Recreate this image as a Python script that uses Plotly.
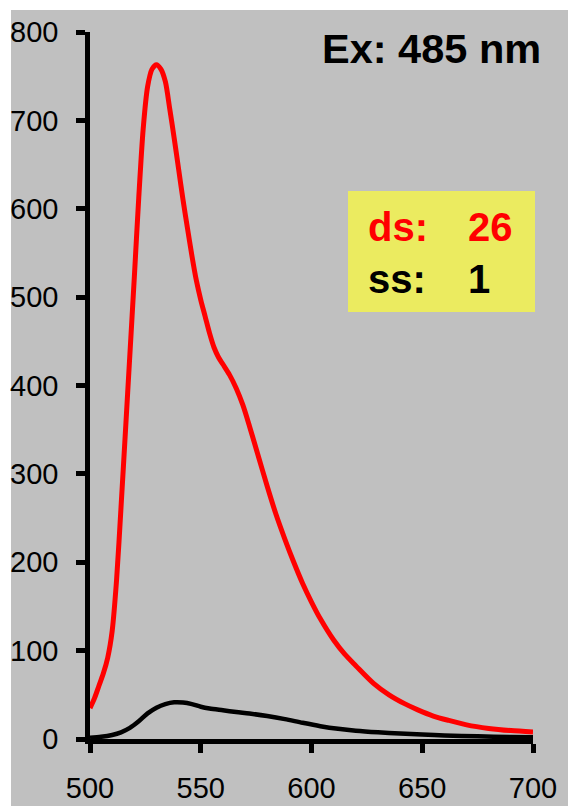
import plotly.graph_objects as go

# Emission spectra (Ex: 485 nm)
ds_wavelength = [500, 502, 504, 506, 508, 510, 512, 514, 516, 518, 520, 522, 524, 526,
                 528, 530, 532, 534, 536, 538, 540, 542, 544, 546, 548, 550, 552, 554,
                 556, 558, 560, 563, 566, 569, 572, 576, 580, 584, 588, 592, 596, 600,
                 604, 610, 615, 620, 628, 635, 642, 648, 655, 662, 670, 680, 690, 700]
ds_intensity = [35, 46, 60, 74, 92, 122, 180, 262, 348, 435, 522, 612, 690, 738,
                758, 763, 758, 744, 713, 680, 645, 610, 578, 547, 519, 497, 478, 459,
                443, 432, 424, 412, 397, 378, 354, 320, 286, 254, 226, 200, 176, 155,
                136, 112, 96, 83, 63, 50, 40, 33, 26, 21, 16, 12, 9.5, 8]

ss_wavelength = [500, 505, 510, 514, 518, 522, 526, 530, 534, 538, 542, 546, 550, 554,
                 560, 566, 572, 580, 588, 596, 604, 612, 620, 630, 640, 650, 660, 675,
                 690, 700]
ss_intensity = [1.5, 2.5, 4.5, 7.5, 12.5, 20, 29, 35.5, 39.5, 41.5, 41.3, 39.5, 36.5, 34.5,
                32.5, 30.5, 28.8, 26, 22.5, 18.3, 14.5, 11.5, 9.3, 7.5, 6.2, 5, 4, 3,
                2.2, 2]

x_ticks = [500, 550, 600, 650, 700]
y_ticks = [0, 100, 200, 300, 400, 500, 600, 700, 800]

title_text = "Ex: 485 nm"
legend_rows = [("ds:", "26", "#ff0000"), ("ss:", "1", "#000000")]

fig = go.Figure()
fig.add_trace(go.Scatter(x=ds_wavelength, y=ds_intensity, mode="lines",
                         line=dict(color="#ff0000", width=5, shape="spline", smoothing=0.8),
                         showlegend=False, hoverinfo="skip"))
fig.add_trace(go.Scatter(x=ss_wavelength, y=ss_intensity, mode="lines",
                         line=dict(color="#000000", width=4.5, shape="spline", smoothing=0.8),
                         showlegend=False, hoverinfo="skip"))

font_family = "Liberation Sans, Arial, sans-serif"

axis_common = dict(showline=True, linecolor="black", linewidth=4.5, ticks="outside",
                   ticklen=9, tickwidth=4.5, tickcolor="black", showgrid=False,
                   zeroline=False, automargin=False,
                   tickfont=dict(family=font_family, size=29, color="black"))

fig.update_xaxes(range=[500, 700], tickvals=x_ticks, ticktext=[str(v) for v in x_ticks],
                 ticklabelstandoff=10, **axis_common)
fig.update_yaxes(range=[0, 800], tickvals=y_ticks, ticktext=[str(v) for v in y_ticks],
                 ticklabelstandoff=12, **axis_common)

shapes = [
    # white strips on top and left edges
    dict(type="rect", xref="paper", yref="paper", x0=-0.3, x1=1.2, y0=1.0311, y1=1.1,
         fillcolor="white", line=dict(width=0), layer="below"),
    dict(type="rect", xref="paper", yref="paper", x0=-0.3, x1=-0.1783, y0=-0.2, y1=1.1,
         fillcolor="white", line=dict(width=0), layer="below"),
    # yellow legend box
    dict(type="rect", xref="paper", yref="paper", x0=0.5824, x1=1.0045, y0=0.604, y1=0.775,
         fillcolor="#ebeb60", line=dict(width=0), layer="below"),
]

annotations = [
    dict(text=f"<b>{title_text}</b>", xref="paper", yref="paper", x=1.022, y=0.976,
         xanchor="right", yanchor="middle", showarrow=False,
         font=dict(family=font_family, size=41.5, color="black")),
]
row_y = [0.7242, 0.6506]
for (lab, val, col), yy in zip(legend_rows, row_y):
    annotations.append(dict(text=f"<b>{lab}</b>", xref="paper", yref="paper", x=0.624, y=yy,
                            xanchor="left", yanchor="middle", showarrow=False,
                            font=dict(family=font_family, size=40, color=col)))
    annotations.append(dict(text=f"<b>{val}</b>", xref="paper", yref="paper", x=0.849, y=yy,
                            xanchor="left", yanchor="middle", showarrow=False,
                            font=dict(family=font_family, size=40, color=col)))

fig.update_layout(width=568, height=806, margin=dict(l=90, r=35, t=32, b=67),
                  paper_bgcolor="#c0c0c0", plot_bgcolor="#c0c0c0",
                  shapes=shapes, annotations=annotations, showlegend=False)

fig.write_html("out.html", config={"displayModeBar": False})
